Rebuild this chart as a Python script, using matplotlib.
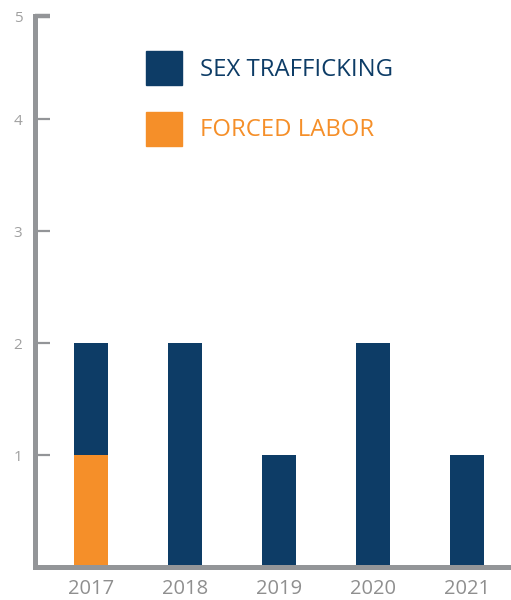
import numpy as np
import matplotlib.pyplot as plt
from matplotlib.patches import Patch

plt.rcParams['font.family'] = ['Open Sans', 'DejaVu Sans']

years = ['2017', '2018', '2019', '2020', '2021']
forced_labor = [1, 0, 0, 0, 0]
sex_trafficking = [1, 2, 1, 2, 1]
ytick_vals = [1, 2, 3, 4, 4.92]
ytick_labels = ['1', '2', '3', '4', '5']

navy = '#0d3c66'
orange = '#f58f29'
axis_gray = '#939598'
label_gray = '#8f8f8f'

fig = plt.figure(figsize=(5.11, 6.0), dpi=100)
ax = fig.add_axes([35 / 511, 33 / 600, 1 - 35 / 511, 551 / 600])

x = np.arange(len(years))
ax.bar(x, forced_labor, width=0.362, color=orange, zorder=2)
ax.bar(x, sex_trafficking, width=0.362, bottom=forced_labor, color=navy, zorder=2)

ax.set_xlim(-0.596, 4.468)
ax.set_ylim(0, 4.92)
ax.set_xticks(x)
ax.set_xticklabels(years)
ax.set_yticks(ytick_vals)
ax.set_yticklabels(ytick_labels)

for s in ['top', 'right']:
    ax.spines[s].set_visible(False)
for s in ['left', 'bottom']:
    ax.spines[s].set_color(axis_gray)
    ax.spines[s].set_linewidth(3.6)
    ax.spines[s].set_capstyle('projecting')

ax.tick_params(axis='x', length=0, pad=8.5, labelsize=14.5, labelcolor=label_gray)
ax.tick_params(axis='y', direction='in', length=10.5, width=1.6, color=axis_gray,
               pad=9, labelsize=11, labelcolor='#a0a0a0')
top_tick = ax.yaxis.get_major_ticks()[-1]
top_tick.tick1line.set_markeredgewidth(3.2)

handles = [Patch(color=navy), Patch(color=orange)]
leg = ax.legend(handles, ['SEX TRAFFICKING', 'FORCED LABOR'],
                loc='upper left', bbox_to_anchor=(146 / 511, 1 - 51 / 600),
                bbox_transform=fig.transFigure, frameon=False, fontsize=17.2,
                handlelength=1.52, handleheight=1.83, handletextpad=0.75,
                labelspacing=1.1, borderpad=0, borderaxespad=0)
for t, c in zip(leg.get_texts(), [navy, orange]):
    t.set_color(c)

fig.savefig('out.png', dpi=100)
